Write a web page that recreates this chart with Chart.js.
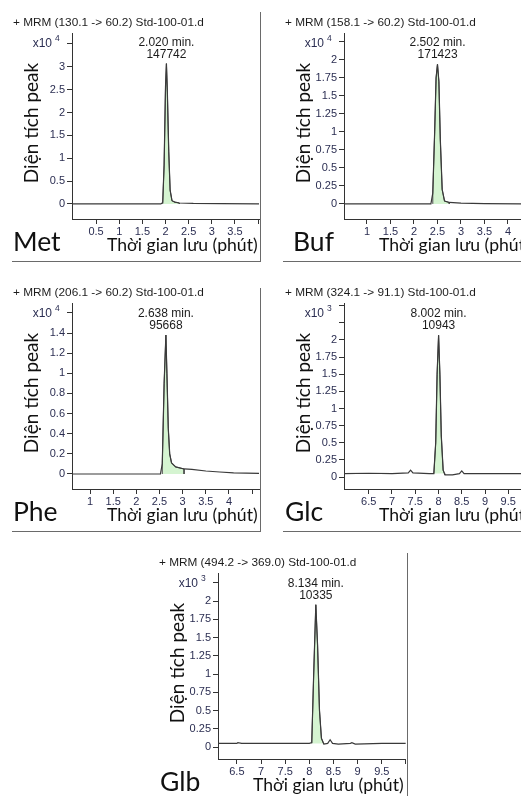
<!DOCTYPE html>
<html>
<head>
<meta charset="utf-8">
<title>MRM chromatograms</title>
<script src="https://cdn.jsdelivr.net/npm/chart.js@4.4.0/dist/chart.umd.min.js"></script>
<style>
    html, body {
        margin: 0;
        padding: 0;
        background: #fff;
        width: 521px;
        height: 796px;
        overflow: hidden;
    }
    body { position: relative; }
    canvas { position: absolute; }
    .frame { position: absolute; background: #6a6a6a; }
</style>
</head>
<body>
<div class="frame" style="left:260px;top:12px;width:1px;height:250px"></div>
<div class="frame" style="left:12px;top:261px;width:249px;height:1px"></div>
<div class="frame" style="left:283px;top:261px;width:238px;height:1px"></div>
<div class="frame" style="left:260px;top:288px;width:1px;height:244px"></div>
<div class="frame" style="left:12px;top:531px;width:249px;height:1px"></div>
<div class="frame" style="left:283px;top:531px;width:238px;height:1px"></div>
<div class="frame" style="left:407px;top:553px;width:1px;height:243px"></div>

<canvas id="met" width="260" height="262" style="left:0;top:0"></canvas>
<canvas id="buf" width="259" height="262" style="left:262px;top:0"></canvas>
<canvas id="phe" width="260" height="262" style="left:0;top:270px"></canvas>
<canvas id="glc" width="259" height="262" style="left:262px;top:270px"></canvas>
<canvas id="glb" width="260" height="256" style="left:147px;top:540px"></canvas>

<script>
// ---- data (time in min, response in x10^n counts) ----

// Met  + MRM (130.1 -> 60.2)
const metTime   = [-0.1, 1.90, 1.94, 1.97, 2.00, 2.02, 2.04, 2.07, 2.10, 2.14, 2.20, 2.30, 2.60, 3.20, 4.10];
const metSignal = [0, 0, 0.03, 0.85, 2.55, 3.07, 2.45, 1.15, 0.30, 0.07, 0.04, 0.02, 0.01, 0.005, 0];
const metIntegration = [1.94, 2.30];
const metPeak = [2.020, 147742];
const metXTicks  = [0.5, 1, 1.5, 2, 2.5, 3, 3.5, 4];
const metXLabels = ['0.5', '1', '1.5', '2', '2.5', '3', '3.5', ''];
const metYTicks  = [0, 0.5, 1, 1.5, 2, 2.5, 3, 3.5];
const metYLabels = ['0', '0.5', '1', '1.5', '2', '2.5', '3', ''];

// Buf  + MRM (158.1 -> 60.2)
const bufTime   = [0.4, 2.36, 2.40, 2.44, 2.47, 2.50, 2.53, 2.56, 2.60, 2.65, 2.75, 3.00, 3.50, 4.40];
const bufSignal = [0, 0, 0.15, 1.00, 1.75, 1.94, 1.70, 0.90, 0.20, 0.04, 0.02, 0.01, 0.005, 0];
const bufIntegration = [2.40, 2.75];
const bufPeak = [2.502, 171423];
const bufXTicks  = [1, 1.5, 2, 2.5, 3, 3.5, 4];
const bufXLabels = ['1', '1.5', '2', '2.5', '3', '3.5', '4'];
const bufYTicks  = [0, 0.25, 0.5, 0.75, 1, 1.25, 1.5, 1.75, 2, 2.25];
const bufYLabels = ['0', '0.25', '0.5', '0.75', '1', '1.25', '1.5', '1.75', '2', ''];

// Phe  + MRM (206.1 -> 60.2)
const pheTime   = [0.5, 2.52, 2.56, 2.60, 2.638, 2.66, 2.69, 2.72, 2.76, 2.85, 3.03, 3.20, 3.50, 3.80, 4.10, 4.70];
const pheSignal = [0, 0, 0.10, 0.90, 1.38, 1.00, 0.45, 0.20, 0.11, 0.07, 0.05, 0.045, 0.03, 0.02, 0.012, 0.005];
const pheIntegration = [2.56, 3.03];
const phePeak = [2.638, 95668];
const pheXTicks  = [1, 1.5, 2, 2.5, 3, 3.5, 4, 4.5];
const pheXLabels = ['1', '1.5', '2', '2.5', '3', '3.5', '4', ''];
const pheYTicks  = [0, 0.2, 0.4, 0.6, 0.8, 1, 1.2, 1.4, 1.6];
const pheYLabels = ['0', '0.2', '0.4', '0.6', '0.8', '1', '1.2', '1.4', ''];

// Glc  + MRM (324.1 -> 91.1)
const glcTime   = [5.9, 6.5, 7.0, 7.35, 7.40, 7.45, 7.80, 7.90, 7.94, 7.97, 8.002, 8.03, 8.06, 8.10, 8.14, 8.30, 8.45, 8.50, 8.55, 9.00, 9.50, 9.90];
const glcSignal = [0.05, 0.055, 0.05, 0.06, 0.10, 0.06, 0.05, 0.05, 0.50, 1.50, 2.07, 1.50, 0.60, 0.10, 0.03, 0.03, 0.05, 0.09, 0.05, 0.05, 0.05, 0.05];
const glcIntegration = [7.90, 8.14];
const glcPeak = [8.002, 10943];
const glcXTicks  = [6.5, 7, 7.5, 8, 8.5, 9, 9.5];
const glcXLabels = ['6.5', '7', '7.5', '8', '8.5', '9', '9.5'];
const glcYTicks  = [0, 0.25, 0.5, 0.75, 1, 1.25, 1.5, 1.75, 2, 2.25, 2.5];
const glcYLabels = ['0', '0.25', '0.5', '0.75', '1', '1.25', '1.5', '1.75', '2', '', ''];

// Glb  + MRM (494.2 -> 369.0)
const glbTime   = [6.0, 6.5, 6.52, 6.6, 7.5, 8.0, 8.05, 8.09, 8.134, 8.17, 8.21, 8.25, 8.30, 8.38, 8.43, 8.48, 8.60, 8.85, 8.88, 8.95, 9.50, 10.1];
const glbSignal = [0.05, 0.05, 0.06, 0.05, 0.05, 0.05, 0.06, 1.00, 1.95, 1.40, 0.50, 0.12, 0.04, 0.05, 0.10, 0.05, 0.04, 0.05, 0.06, 0.04, 0.05, 0.05];
const glbIntegration = [8.05, 8.30];
const glbPeak = [8.134, 10335];
const glbXTicks  = [6.5, 7, 7.5, 8, 8.5, 9, 9.5, 10];
const glbXLabels = ['6.5', '7', '7.5', '8', '8.5', '9', '9.5', ''];
const glbYTicks  = [0, 0.25, 0.5, 0.75, 1, 1.25, 1.5, 1.75, 2, 2.25];
const glbYLabels = ['0', '0.25', '0.5', '0.75', '1', '1.25', '1.5', '1.75', '2', ''];

const X_TITLE = 'Thời gian lưu (phút)';
const Y_TITLE = 'Diện tích peak';

// ---- layout ----
const Y_AXIS_W = 40;
const X_AXIS_H = 20;
const TICK_COLOR = '#2b2e52';
const LINE_COLOR = '#3a3a3a';
const AREA_COLOR = '#d5f4d1';
const SANS = '"Liberation Sans", Arial, sans-serif';
const HUMAN = 'Lato, "Open Sans", sans-serif';

// text drawn around each plot (header, multiplier, peak label, titles)
const panelText = {
    id: 'panelText',
    afterDraw(chart, args, o) {
        const ctx = chart.ctx;
        const a = chart.chartArea;
        const sx = chart.scales.x;
        const sy = chart.scales.y;
        ctx.save();
        ctx.fillStyle = '#1c1c1c';
        ctx.textBaseline = 'alphabetic';

        ctx.font = '11.8px ' + SANS;
        ctx.textAlign = 'left';
        ctx.fillText(o.header, a.left - 59, a.top - 7);

        ctx.fillStyle = TICK_COLOR;
        ctx.textAlign = 'right';
        ctx.font = '12px ' + SANS;
        ctx.fillText('x10', a.left - 20, a.top + 14);
        ctx.font = '8.5px ' + SANS;
        ctx.textAlign = 'left';
        ctx.fillText(String(o.exponent), a.left - 17, a.top + 8);

        const px = sx.getPixelForValue(o.peak[0]);
        const py = sy.getPixelForValue(o.apex);
        ctx.fillStyle = '#1c1c1c';
        ctx.font = '12px ' + SANS;
        ctx.textAlign = 'center';
        ctx.fillText(o.peak[0].toFixed(3) + ' min.', px, py - 18);
        ctx.fillText(String(o.peak[1]), px, py - 6);

        ctx.fillStyle = '#111';
        ctx.textAlign = 'left';
        ctx.font = '26.5px ' + HUMAN;
        ctx.fillText(o.name, a.left + o.nameDx, a.bottom + 32);
        ctx.font = '17.6px ' + HUMAN;
        ctx.fillText(X_TITLE, a.left + 35, a.bottom + 32);

        ctx.translate(a.left - 34, (a.top + a.bottom) / 2 - 3);
        ctx.rotate(-Math.PI / 2);
        ctx.font = '19px ' + HUMAN;
        ctx.textAlign = 'center';
        ctx.fillText(Y_TITLE, 0, 0);
        ctx.restore();
    }
};

function toPoints(time, signal) {
    return time.map((t, i) => ({ x: t, y: signal[i] }));
}

function areaPoints(time, signal, range, base) {
    const pts = [{ x: range[0], y: base }];
    time.forEach((t, i) => {
        if (t >= range[0] && t <= range[1]) {
            pts.push({ x: t, y: signal[i] });
        }
    });
    pts.push({ x: range[1], y: base });
    return pts;
}

function axis(min, max, values, labels, padding) {
    return {
        type: 'linear',
        min: min,
        max: max,
        afterBuildTicks: (scale) => {
            scale.ticks = values.map((v) => ({ value: v }));
        },
        grid: {
            display: true,
            drawOnChartArea: false,
            drawTicks: true,
            tickLength: 5,
            color: '#333'
        },
        border: { display: true, color: '#333', width: 1 },
        ticks: {
            autoSkip: false,
            maxRotation: 0,
            padding: padding,
            color: TICK_COLOR,
            font: { family: SANS, size: 11 },
            callback: (value, index) => labels[index]
        }
    };
}

function makePanel(p) {
    const canvas = document.getElementById(p.id);
    const box = { x: canvas.offsetLeft, y: canvas.offsetTop, w: canvas.width, h: canvas.height };
    const xAxis = axis(p.xRange[0], p.xRange[1], p.xTicks, p.xLabels, 1);
    xAxis.afterFit = (s) => { s.height = X_AXIS_H; };
    const yAxis = axis(p.yRange[0], p.yRange[1], p.yTicks, p.yLabels, 2);
    yAxis.afterFit = (s) => { s.width = Y_AXIS_W; };
    return new Chart(canvas.getContext('2d'), {
        type: 'line',
        data: {
            datasets: [
                {
                    data: toPoints(p.time, p.signal),
                    borderColor: LINE_COLOR,
                    borderWidth: 1.2,
                    fill: false,
                    order: 1
                },
                {
                    data: areaPoints(p.time, p.signal, p.integration, p.base),
                    borderColor: '#4a4a4a',
                    borderWidth: 1,
                    backgroundColor: AREA_COLOR,
                    fill: { value: p.base },
                    order: 2
                }
            ]
        },
        options: {
            responsive: false,
            animation: false,
            devicePixelRatio: 1,
            parsing: false,
            layout: {
                padding: {
                    left: p.area[0] - box.x - Y_AXIS_W,
                    top: p.area[1] - box.y,
                    right: box.x + box.w - p.area[2],
                    bottom: box.y + box.h - p.area[3] - X_AXIS_H
                }
            },
            elements: {
                point: { radius: 0 },
                line: { tension: 0 }
            },
            plugins: {
                legend: { display: false },
                tooltip: { enabled: false },
                panelText: {
                    header: p.header,
                    exponent: p.exponent,
                    peak: p.peak,
                    apex: Math.max(...p.signal),
                    name: p.name,
                    nameDx: p.nameDx
                }
            },
            scales: { x: xAxis, y: yAxis }
        },
        plugins: [panelText]
    });
}

makePanel({
    id: 'met', name: 'Met', nameDx: -59, header: '+ MRM (130.1 -> 60.2) Std-100-01.d', exponent: 4,
    time: metTime, signal: metSignal, integration: metIntegration, base: 0, peak: metPeak,
    xTicks: metXTicks, xLabels: metXLabels, yTicks: metYTicks, yLabels: metYLabels,
    area: [72, 33, 259, 219], xRange: [-0.02, 4.02], yRange: [-0.33, 3.74]
});
makePanel({
    id: 'buf', name: 'Buf', nameDx: -51, header: '+ MRM (158.1 -> 60.2) Std-100-01.d', exponent: 4,
    time: bufTime, signal: bufSignal, integration: bufIntegration, base: 0, peak: bufPeak,
    xTicks: bufXTicks, xLabels: bufXLabels, yTicks: bufYTicks, yLabels: bufYLabels,
    area: [344, 33, 521, 219], xRange: [0.511, 4.277], yRange: [-0.21, 2.375]
});
makePanel({
    id: 'phe', name: 'Phe', nameDx: -59, header: '+ MRM (206.1 -> 60.2) Std-100-01.d', exponent: 4,
    time: pheTime, signal: pheSignal, integration: pheIntegration, base: 0, peak: phePeak,
    xTicks: pheXTicks, xLabels: pheXLabels, yTicks: pheYTicks, yLabels: pheYLabels,
    area: [72, 303, 259, 489], xRange: [0.611, 4.648], yRange: [-0.149, 1.698]
});
makePanel({
    id: 'glc', name: 'Glc', nameDx: -59, header: '+ MRM (324.1 -> 91.1) Std-100-01.d', exponent: 3,
    time: glcTime, signal: glcSignal, integration: glcIntegration, base: 0.05, peak: glcPeak,
    xTicks: glcXTicks, xLabels: glcXLabels, yTicks: glcYTicks, yLabels: glcYLabels,
    area: [344, 303, 521, 489], xRange: [5.968, 9.774], yRange: [-0.175, 2.54]
});
makePanel({
    id: 'glb', name: 'Glb', nameDx: -58, header: '+ MRM (494.2 -> 369.0) Std-100-01.d', exponent: 3,
    time: glbTime, signal: glbSignal, integration: glbIntegration, base: 0.05, peak: glbPeak,
    xTicks: glbXTicks, xLabels: glbXLabels, yTicks: glbYTicks, yLabels: glbYLabels,
    area: [218, 573, 407, 759], xRange: [6.11, 9.993], yRange: [-0.164, 2.384]
});
</script>
</body>
</html>
